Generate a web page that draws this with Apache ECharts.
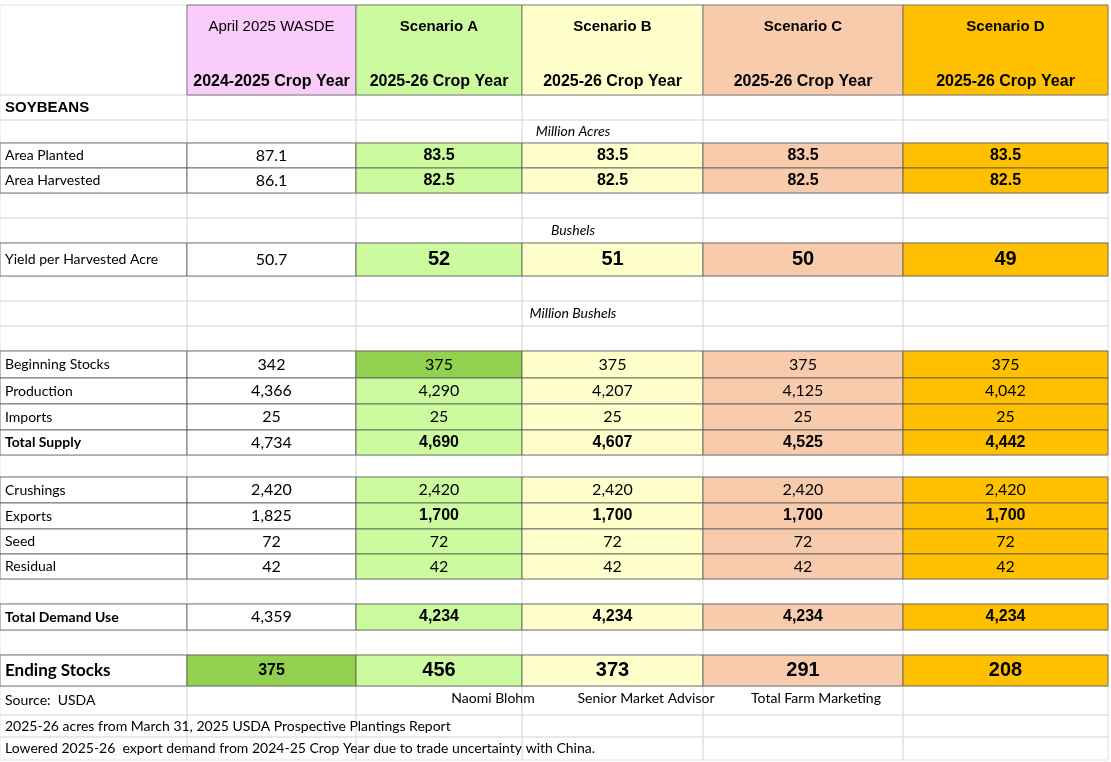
<!DOCTYPE html>
<html><head><meta charset="utf-8">
<script src="https://cdn.jsdelivr.net/npm/echarts@6/dist/echarts.min.js"></script>
<style>html,body{margin:0;background:#fff}#main{width:1111px;height:762px}</style>
</head><body><div id="main"></div>
<script>
// table values
var headers1 = ['April 2025 WASDE', 'Scenario A', 'Scenario B', 'Scenario C', 'Scenario D'];
var headers2 = ['2024-2025 Crop Year', '2025-26 Crop Year', '2025-26 Crop Year', '2025-26 Crop Year', '2025-26 Crop Year'];
var rowLabels = ['Area Planted', 'Area Harvested', 'Yield per Harvested Acre', 'Beginning Stocks', 'Production', 'Imports', 'Total Supply',
  'Crushings', 'Exports', 'Seed', 'Residual', 'Total Demand Use', 'Ending Stocks'];
var wasde = ['87.1', '86.1', '50.7', '342', '4,366', '25', '4,734', '2,420', '1,825', '72', '42', '4,359', '375'];
var scenA = ['83.5', '82.5', '52', '375', '4,290', '25', '4,690', '2,420', '1,700', '72', '42', '4,234', '456'];
var scenB = ['83.5', '82.5', '51', '375', '4,207', '25', '4,607', '2,420', '1,700', '72', '42', '4,234', '373'];
var scenC = ['83.5', '82.5', '50', '375', '4,125', '25', '4,525', '2,420', '1,700', '72', '42', '4,234', '291'];
var scenD = ['83.5', '82.5', '49', '375', '4,042', '25', '4,442', '2,420', '1,700', '72', '42', '4,234', '208'];
var unitLabels = ['Million Acres', 'Bushels', 'Million Bushels'];
var footer = ['Source:  USDA', '2025-26 acres from March 31, 2025 USDA Prospective Plantings Report',
  'Lowered 2025-26  export demand from 2024-25 Crop Year due to trade uncertainty with China.'];
var credits = ['Naomi Blohm', 'Senior Market Advisor', 'Total Farm Marketing'];

// layout
var colEdges = [0, 187, 356, 522, 703, 903, 1108];
var rowEdges = [5, 95, 120, 143, 168, 193, 218, 243, 276, 301, 326, 351, 378, 404, 430, 455, 477, 503, 529, 554, 579, 604, 630, 655, 686, 715, 737, 760];
var dataRowIdx = [3, 4, 7, 11, 12, 13, 14, 16, 17, 18, 19, 21, 23];
var unitRowIdx = [2, 6, 9];
var colFill = ['#ffffff', '#ffffff', '#ccfa9f', '#ffffcc', '#f8cbad', '#ffc000'];
var headFill = ['#f9ccf9', '#ccfa9f', '#ffffcc', '#f8cbad', '#ffc000'];
var boldRows = ['Area Planted', 'Area Harvested', 'Yield per Harvested Acre', 'Total Supply', 'Exports', 'Total Demand Use', 'Ending Stocks'];
var bigRows = ['Yield per Harvested Acre', 'Ending Stocks'];
var FONT = 'Lato, "Noto Sans", sans-serif';
var HFONT = '"Liberation Sans", Arial, sans-serif';

var cells = [];
// background spreadsheet grid
for (var r = 0; r < rowEdges.length - 1; r++) {
  for (var c = 0; c < colEdges.length - 1; c++) {
    cells.push({x0: colEdges[c], x1: colEdges[c + 1], y0: rowEdges[r], y1: rowEdges[r + 1], fill: 'none', stroke: '#dcdcdc', lw: 0.8});
  }
}
// headers
for (var h = 0; h < 5; h++) {
  cells.push({x0: colEdges[h + 1], x1: colEdges[h + 2], y0: rowEdges[0], y1: rowEdges[1], fill: headFill[h], stroke: '#666', lw: 0.8,
    text: headers1[h], ty: 27, font: (h === 0 ? 'normal ' : 'bold ') + '15px ' + HFONT,
    text2: headers2[h], ty2: 82, font2: 'bold 16px ' + HFONT});
}
cells.push({x0: 0, x1: 187, y0: 95, y1: 120, fill: 'none', text: 'SOYBEANS', align: 'left', font: 'bold 15px ' + HFONT});
unitRowIdx.forEach(function (ri, k) {
  cells.push({x0: 446, x1: 700, y0: rowEdges[ri], y1: rowEdges[ri + 1], fill: 'none', text: unitLabels[k], font: 'italic 14px ' + FONT});
});
var cols = [wasde, scenA, scenB, scenC, scenD];
rowLabels.forEach(function (lab, i) {
  var ri = dataRowIdx[i];
  var y0 = rowEdges[ri], y1 = rowEdges[ri + 1];
  var isBold = boldRows.indexOf(lab) >= 0, isBig = bigRows.indexOf(lab) >= 0;
  var labBold = ['Total Supply', 'Total Demand Use', 'Ending Stocks'].indexOf(lab) >= 0;
  cells.push({x0: 0, x1: 187, y0: y0, y1: y1, fill: '#fff', stroke: '#555', lw: 0.8, text: lab, align: 'left',
    font: (labBold ? 'bold ' : '') + (lab === 'Ending Stocks' ? '17px ' : '14px ') + FONT});
  cols.forEach(function (arr, c) {
    var fill = colFill[c + 1];
    if ((lab === 'Beginning Stocks' && c === 1) || (lab === 'Ending Stocks' && c === 0)) fill = '#92d050';
    var f = c === 0 ? '16px ' + FONT
      : (isBig ? 'bold 20px ' + HFONT : (isBold ? 'bold 16px ' + HFONT : '16px ' + FONT));
    if (c === 0 && lab === 'Ending Stocks') f = 'bold 16px ' + HFONT;
    cells.push({x0: colEdges[c + 1], x1: colEdges[c + 2], y0: y0, y1: y1, fill: fill, stroke: '#555', lw: 0.8, text: arr[i], font: f});
  });
});
footer.forEach(function (t, k) {
  cells.push({x0: 0, x1: 700, y0: rowEdges[24 + k], y1: rowEdges[25 + k], fill: 'none', text: t, align: 'left', font: '14px ' + FONT});
});
var creditX = [[420, 566], [566, 726], [726, 906]];
credits.forEach(function (t, k) {
  cells.push({x0: creditX[k][0], x1: creditX[k][1], y0: rowEdges[24], y1: rowEdges[25] - 4, fill: 'none', text: t, font: '14px ' + FONT});
});

var myChart = echarts.init(document.getElementById('main'));
var option = {
  animation: false,
  grid: {left: 0, right: 0, top: 0, bottom: 0},
  xAxis: {type: 'value', min: 0, max: 1111, show: false},
  yAxis: {type: 'value', min: 0, max: 762, inverse: true, show: false},
  series: [{
    type: 'custom',
    clip: false,
    data: cells.map(function (c, i) { return [c.x0, c.y0, i]; }),
    renderItem: function (params, api) {
      var c = cells[api.value(2)];
      var p0 = api.coord([c.x0, c.y0]), p1 = api.coord([c.x1, c.y1]);
      var kids = [{type: 'rect', shape: {x: p0[0], y: p0[1], width: p1[0] - p0[0], height: p1[1] - p0[1]},
        style: {fill: c.fill, stroke: c.stroke || null, lineWidth: c.lw || 0}}];
      if (c.text) {
        var left = c.align === 'left';
        var ty = c.ty != null ? api.coord([0, c.ty])[1] : (p0[1] + p1[1]) / 2;
        kids.push({type: 'text', style: {text: c.text, x: left ? p0[0] + 5 : (p0[0] + p1[0]) / 2, y: ty,
          align: left ? 'left' : 'center', verticalAlign: 'middle', font: c.font, fill: '#000'}});
      }
      if (c.text2) {
        kids.push({type: 'text', style: {text: c.text2, x: (p0[0] + p1[0]) / 2, y: api.coord([0, c.ty2])[1],
          align: 'center', verticalAlign: 'middle', font: c.font2, fill: '#000'}});
      }
      return {type: 'group', children: kids};
    }
  }]
};
myChart.setOption(option);
</script>
</body></html>
